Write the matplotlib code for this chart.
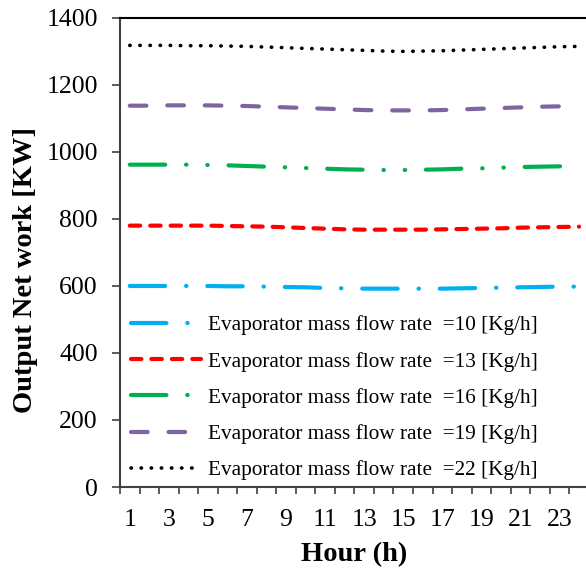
import matplotlib
matplotlib.use("Agg")
import matplotlib.pyplot as plt
import numpy as np

plt.rcParams['font.family'] = ['Liberation Serif', 'DejaVu Serif']

hours = list(range(1, 25))
flow_10 = [600, 600, 600, 600, 600, 599, 599, 598, 597, 596, 594, 593,
           592, 592, 592, 592, 592, 593, 594, 595, 596, 597, 598, 598]
flow_13 = [780, 780, 780, 780, 780, 779, 778, 777, 775, 773, 771, 769,
           768, 768, 768, 768, 769, 770, 771, 772, 774, 775, 776, 777]
flow_16 = [962, 962, 962, 962, 961, 960, 958, 956, 954, 952, 950, 948,
           947, 946, 946, 947, 948, 950, 951, 953, 955, 956, 957, 958]
flow_19 = [1138, 1138, 1139, 1139, 1139, 1138, 1137, 1135, 1133, 1131, 1129, 1127,
           1125, 1124, 1124, 1124, 1125, 1127, 1129, 1131, 1133, 1135, 1136, 1137]
flow_22 = [1318, 1318, 1318, 1317, 1317, 1316, 1315, 1313, 1311, 1309, 1307, 1305,
           1303, 1301, 1300, 1301, 1302, 1304, 1306, 1308, 1310, 1312, 1314, 1315]
labels = ["Evaporator mass flow rate  =10 [Kg/h]",
          "Evaporator mass flow rate  =13 [Kg/h]",
          "Evaporator mass flow rate  =16 [Kg/h]",
          "Evaporator mass flow rate  =19 [Kg/h]",
          "Evaporator mass flow rate  =22 [Kg/h]"]

fig = plt.figure(figsize=(5.86, 5.70), dpi=100)
ax = fig.add_axes([0.2048, 0.1456, 0.80, 0.823])

lw = 3.0
ax.plot(hours, flow_10, color='#00b0f0', lw=lw, dash_capstyle='round',
        linestyle=(0, (8.5, 5, 0.1, 5)), label=labels[0])
ax.plot(hours, flow_13, color='#ff0000', lw=lw, dash_capstyle='round',
        linestyle=(0, (2.5, 2.4)), label=labels[1])
ax.plot(hours, flow_16, color='#00b050', lw=lw, dash_capstyle='round',
        linestyle=(0, (8.5, 5, 0.1, 5, 0.1, 5)), label=labels[2])
ax.plot(hours, flow_19, color='#8064a2', lw=lw, dash_capstyle='round',
        linestyle=(0, (4, 5)), label=labels[3])
ax.plot(hours, flow_22, color='black', lw=2.6, dash_capstyle='round',
        linestyle=(0, (0.1, 2.7)), label=labels[4])

ax.set_xlim(0.5, 24.5)
ax.set_ylim(0, 1400)
ax.set_xticks(np.arange(0.5, 25, 1))
ax.set_xticklabels([])
ax.set_xticks(range(1, 25, 2), minor=True)
ax.set_xticklabels([str(h) for h in range(1, 25, 2)], minor=True)
ax.tick_params(axis='x', which='major', direction='out', length=5, width=1.2, color='#404040')
ax.tick_params(axis='x', which='minor', length=0, labelsize=18.5, pad=16)
ax.set_yticks(range(0, 1401, 200))
ax.tick_params(axis='y', direction='out', length=6, width=1.2, color='#404040',
               labelsize=18.5, pad=10)

for s in ['left', 'bottom']:
    ax.spines[s].set_color('#404040')
    ax.spines[s].set_linewidth(1.5)
ax.spines['top'].set_linewidth(1.5)
ax.spines['right'].set_visible(False)

ax.set_xlabel("Hour (h)", fontsize=20.5, fontweight='bold', labelpad=8)
ax.set_ylabel("Output Net work [KW]", fontsize=20.5, fontweight='bold')
ax.yaxis.set_label_coords(-0.175, 0.463)

ax.legend(loc='lower left', bbox_to_anchor=(0.006, -0.004), frameon=False, fontsize=15.3,
          handlelength=3.3, handletextpad=0.3, labelspacing=0.77, borderaxespad=0.0)

fig.savefig("out.png", dpi=100)
